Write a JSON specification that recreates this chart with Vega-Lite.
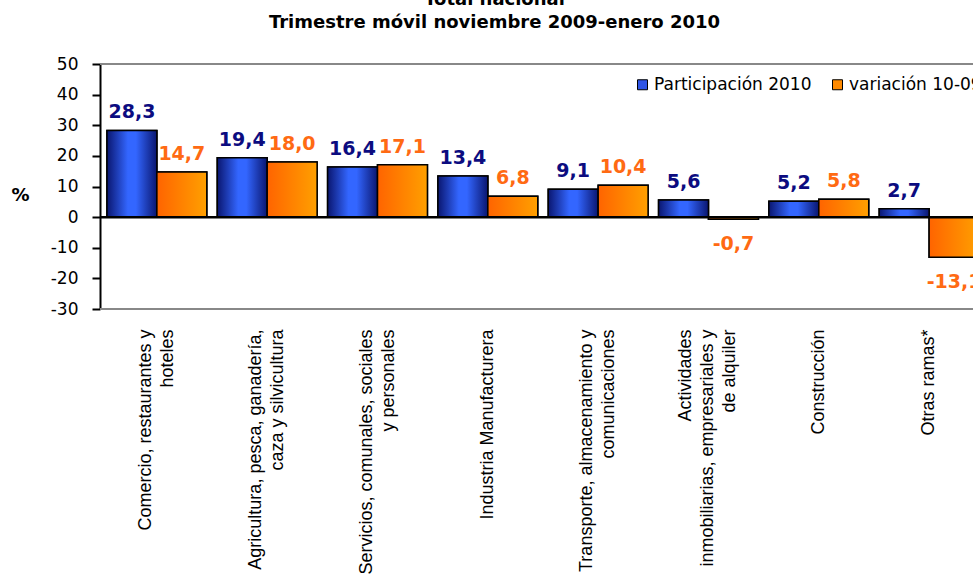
{
  "$schema": "https://vega.github.io/schema/vega-lite/v6.json",
  "width": 873,
  "height": 245,
  "autosize": {"type": "none"},
  "padding": {"left": 100, "top": 64, "right": 0, "bottom": 267},
  "background": "white",
  "config": {
    "font": "DejaVu Sans",
    "view": {"stroke": null},
    "locale": {"number": {"decimal": ",", "thousands": ".", "grouping": [3], "currency": ["", ""], "minus": "-"}}
  },
  "title": {
    "text": ["Total nacional", "Trimestre móvil noviembre 2009-enero 2010"],
    "fontSize": 18, "fontWeight": "bold", "lineHeight": 23, "anchor": "middle",
    "dx": -42, "offset": 23, "color": "black", "font": "DejaVu Sans"
  },
  "datasets": {
    "ramas": [
      {"rama": "Comercio, restaurantes y\nhoteles", "serie": "Participación 2010", "valor": 28.3},
      {"rama": "Comercio, restaurantes y\nhoteles", "serie": "variación 10-09", "valor": 14.7},
      {"rama": "Agricultura, pesca, ganadería,\ncaza y silvicultura", "serie": "Participación 2010", "valor": 19.4},
      {"rama": "Agricultura, pesca, ganadería,\ncaza y silvicultura", "serie": "variación 10-09", "valor": 18.0},
      {"rama": "Servicios, comunales, sociales\ny personales", "serie": "Participación 2010", "valor": 16.4},
      {"rama": "Servicios, comunales, sociales\ny personales", "serie": "variación 10-09", "valor": 17.1},
      {"rama": "Industria Manufacturera", "serie": "Participación 2010", "valor": 13.4},
      {"rama": "Industria Manufacturera", "serie": "variación 10-09", "valor": 6.8},
      {"rama": "Transporte, almacenamiento y\ncomunicaciones", "serie": "Participación 2010", "valor": 9.1},
      {"rama": "Transporte, almacenamiento y\ncomunicaciones", "serie": "variación 10-09", "valor": 10.4},
      {"rama": "Actividades\ninmobiliarias, empresariales y\nde alquiler", "serie": "Participación 2010", "valor": 5.6},
      {"rama": "Actividades\ninmobiliarias, empresariales y\nde alquiler", "serie": "variación 10-09", "valor": -0.7},
      {"rama": "Construcción", "serie": "Participación 2010", "valor": 5.2},
      {"rama": "Construcción", "serie": "variación 10-09", "valor": 5.8},
      {"rama": "Otras ramas*", "serie": "Participación 2010", "valor": 2.7},
      {"rama": "Otras ramas*", "serie": "variación 10-09", "valor": -13.1}
    ]
  },
  "data": {"name": "ramas"},
  "encoding": {
    "y": {
      "field": "valor", "type": "quantitative",
      "scale": {"domain": [-30, 50], "nice": false},
      "axis": {
        "values": [-30, -20, -10, 0, 10, 20, 30, 40, 50], "tickCount": 12,
        "grid": false, "domainColor": "black", "domainWidth": 2,
        "tickColor": "black", "tickWidth": 2, "tickSize": 8,
        "labelFont": "DejaVu Sans", "labelFontSize": 17, "labelColor": "black", "labelPadding": 14,
        "labelOverlap": false, "labelBound": false, "labelFlush": false,
        "title": "%", "titleAngle": 0, "titleX": -80, "titleY": 131,
        "titleFont": "DejaVu Sans", "titleFontSize": 18, "titleFontWeight": "bold",
        "titleAlign": "center", "titleBaseline": "middle", "titleColor": "black"
      }
    }
  },
  "layer": [
    {
      "data": {"values": [{"valor": 50}, {"valor": -30}]},
      "mark": {"type": "rule", "color": "#888888", "strokeWidth": 2},
      "encoding": {}
    },
    {
      "mark": {"type": "bar", "stroke": "black", "strokeWidth": 1.5},
      "encoding": {
        "x": {
          "field": "rama", "type": "nominal",
          "scale": {
            "domain": ["Comercio, restaurantes y\nhoteles", "Agricultura, pesca, ganadería,\ncaza y silvicultura", "Servicios, comunales, sociales\ny personales", "Industria Manufacturera", "Transporte, almacenamiento y\ncomunicaciones", "Actividades\ninmobiliarias, empresariales y\nde alquiler", "Construcción", "Otras ramas*"],
            "range": [0, 886], "paddingInner": 0.095, "paddingOuter": 0.063
          },
          "axis": {
            "orient": "bottom", "title": null, "domain": false, "ticks": false,
            "labelAngle": -90, "labelAlign": "right", "labelBaseline": "middle",
            "labelPadding": 20, "labelFont": "Liberation Sans", "labelFontSize": 18,
            "labelColor": "black", "labelLineHeight": 22, "labelLimit": 0, "labelOverlap": false,
            "labelExpr": "split(datum.value, '\\n')",
            "labelOffset": {
              "condition": [
                {"test": "length(split(datum.value, '\\n')) == 3", "value": -22},
                {"test": "length(split(datum.value, '\\n')) == 2", "value": -11}
              ],
              "value": 0
            }
          }
        },
        "xOffset": {"field": "serie", "type": "nominal", "scale": {"domain": ["Participación 2010", "variación 10-09"], "paddingInner": 0, "paddingOuter": 0}},
        "color": {
          "field": "serie", "type": "nominal",
          "scale": {"domain": ["Participación 2010", "variación 10-09"], "range": ["#2f55e6", "#ff8a00"]},
          "legend": {
            "orient": "none", "legendX": 534, "legendY": 12, "direction": "horizontal", "title": null,
            "symbolType": "square", "symbolSize": 100, "symbolStrokeColor": "black", "symbolStrokeWidth": 1,
            "labelFont": "DejaVu Sans", "labelFontSize": 17, "labelColor": "black", "labelOffset": 3,
            "columnPadding": 17, "labelLimit": 0
          }
        }
      }
    },
    {
      "transform": [{"filter": "datum.serie === 'Participación 2010'"}],
      "mark": {
        "type": "bar", "stroke": "black", "strokeWidth": 1.5,
        "fill": {"gradient": "linear", "x1": 0, "y1": 0, "x2": 1, "y2": 0,
          "stops": [{"offset": 0, "color": "#0a1670"}, {"offset": 0.42, "color": "#3366ff"}, {"offset": 0.58, "color": "#3366ff"}, {"offset": 1, "color": "#0a1670"}]}
      },
      "encoding": {
        "x": {"field": "rama", "type": "nominal"},
        "xOffset": {"field": "serie", "type": "nominal"}
      }
    },
    {
      "transform": [{"filter": "datum.serie === 'variación 10-09'"}],
      "mark": {
        "type": "bar", "stroke": "black", "strokeWidth": 1.5,
        "fill": {"gradient": "linear", "x1": 0, "y1": 0, "x2": 1, "y2": 0,
          "stops": [{"offset": 0, "color": "#ff6400"}, {"offset": 1, "color": "#ffa000"}]}
      },
      "encoding": {
        "x": {"field": "rama", "type": "nominal"},
        "xOffset": {"field": "serie", "type": "nominal"}
      }
    },
    {
      "data": {"values": [{"valor": 0}]},
      "mark": {"type": "rule", "color": "black", "strokeWidth": 2.5},
      "encoding": {}
    },
    {
      "transform": [{"filter": "datum.valor >= 0"}],
      "mark": {"type": "text", "baseline": "alphabetic", "dy": -12, "font": "DejaVu Sans", "fontSize": 19, "fontWeight": "bold"},
      "encoding": {
        "x": {"field": "rama", "type": "nominal"},
        "xOffset": {"field": "serie", "type": "nominal"},
        "text": {"field": "valor", "type": "quantitative", "format": ".1f"},
        "color": {"condition": {"test": "datum.serie === 'Participación 2010'", "value": "#0c0c80"}, "value": "#ff6a13"}
      }
    },
    {
      "transform": [{"filter": "datum.valor < 0"}],
      "mark": {"type": "text", "baseline": "top", "dy": 16, "font": "DejaVu Sans", "fontSize": 19, "fontWeight": "bold"},
      "encoding": {
        "x": {"field": "rama", "type": "nominal"},
        "xOffset": {"field": "serie", "type": "nominal"},
        "text": {"field": "valor", "type": "quantitative", "format": ".1f"},
        "color": {"condition": {"test": "datum.serie === 'Participación 2010'", "value": "#0c0c80"}, "value": "#ff6a13"}
      }
    }
  ]
}
